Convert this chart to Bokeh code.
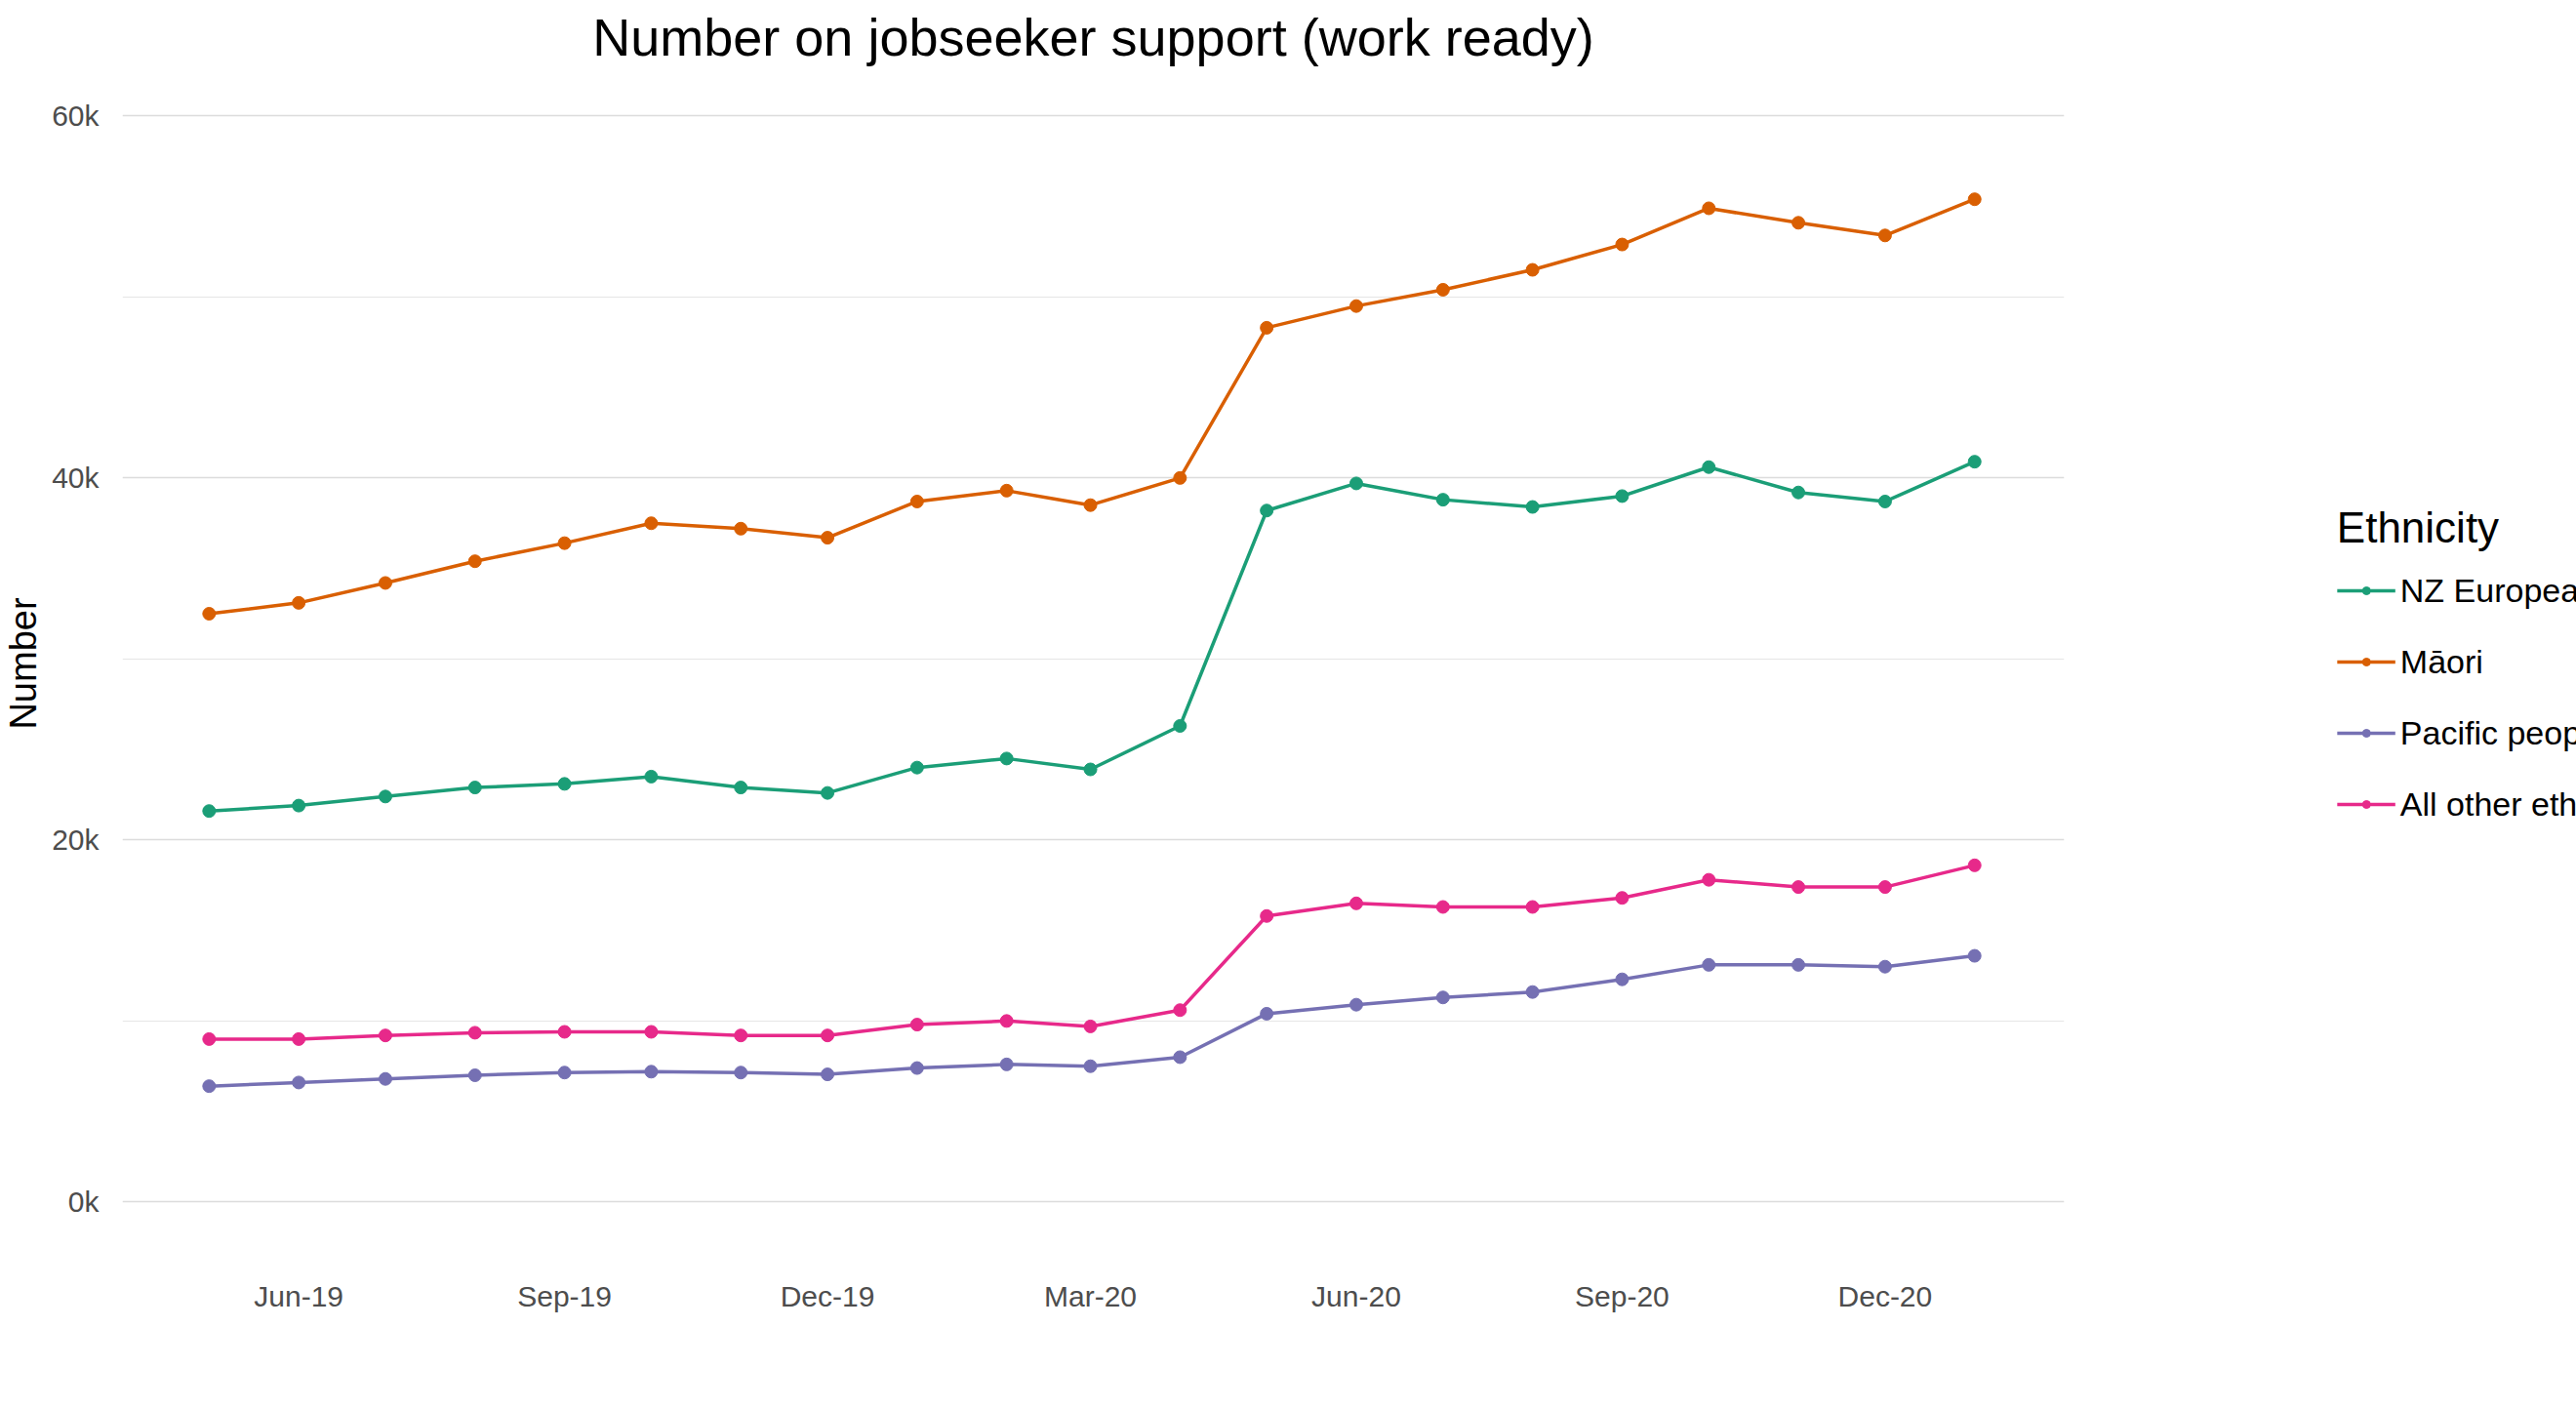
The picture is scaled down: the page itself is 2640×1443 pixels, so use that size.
import pandas as pd
from bokeh.plotting import figure
from bokeh.models import (FixedTicker, CustomJSTickFormatter, DatetimeTickFormatter,
                          Legend, LegendItem, Range1d)
from bokeh.embed import file_html
from bokeh.resources import INLINE

# monthly values, May-19 .. Jan-21 (thousands)
months = pd.date_range("2019-05-01", "2021-01-01", freq="MS")
nz_european = [21.6, 21.9, 22.4, 22.9, 23.1, 23.5, 22.9, 22.6, 24.0, 24.5, 23.9,
               26.3, 38.2, 39.7, 38.8, 38.4, 39.0, 40.6, 39.2, 38.7, 40.9]
maori = [32.5, 33.1, 34.2, 35.4, 36.4, 37.5, 37.2, 36.7, 38.7, 39.3, 38.5,
         40.0, 48.3, 49.5, 50.4, 51.5, 52.9, 54.9, 54.1, 53.4, 55.4]
pacific = [6.4, 6.6, 6.8, 7.0, 7.15, 7.2, 7.15, 7.05, 7.4, 7.6, 7.5,
           8.0, 10.4, 10.9, 11.3, 11.6, 12.3, 13.1, 13.1, 13.0, 13.6]
other = [9.0, 9.0, 9.2, 9.35, 9.4, 9.4, 9.2, 9.2, 9.8, 10.0, 9.7,
         10.6, 15.8, 16.5, 16.3, 16.3, 16.8, 17.8, 17.4, 17.4, 18.6]

series = [("NZ European", nz_european, "#1B9E77"),
          ("Māori", maori, "#D95F02"),
          ("Pacific peoples", pacific, "#7570B3"),
          ("All other ethnicities", other, "#E7298A")]

tick_dates = pd.to_datetime(["2019-06-01", "2019-09-01", "2019-12-01", "2020-03-01",
                             "2020-06-01", "2020-09-01", "2020-12-01"])

FONT = "Liberation Sans"

p = figure(frame_width=1990, frame_height=1215, x_axis_type="datetime",
           output_backend="svg", toolbar_location=None,
           title="Number on jobseeker support (work ready)",
           x_range=Range1d(pd.Timestamp("2019-04-01"), pd.Timestamp("2021-02-01")),
           y_range=Range1d(-3000, 62500),
           min_border_left=60, min_border_top=20, min_border_bottom=20,
           min_border_right=10)

items = []
for name, vals, col in series:
    y = [v * 1000 for v in vals]
    r1 = p.line(months, y, line_color=col, line_width=3.5)
    r2 = p.scatter(months, y, size=13, fill_color=col, line_color=col)
    items.append(LegendItem(label=name, renderers=[r1, r2]))

p.title.text_font = FONT
p.title.text_font_size = "54px"
p.title.text_font_style = "normal"
p.title.text_color = "black"
p.title.align = "center"

p.xaxis.ticker = FixedTicker(ticks=[d.value / 1e6 for d in tick_dates])
p.xaxis.formatter = DatetimeTickFormatter(months="%b-%y", days="%b-%y")
p.yaxis.ticker = FixedTicker(ticks=[0, 20000, 40000, 60000],
                             minor_ticks=[10000, 30000, 50000])
p.yaxis.formatter = CustomJSTickFormatter(code="return (tick/1000) + 'k';")
p.yaxis.axis_label = "Number"
p.yaxis.axis_label_text_font = FONT
p.yaxis.axis_label_text_font_size = "38px"
p.yaxis.axis_label_text_font_style = "normal"
p.yaxis.axis_label_text_color = "black"

for ax in (p.xaxis, p.yaxis):
    ax.axis_line_color = None
    ax.major_tick_line_color = None
    ax.minor_tick_line_color = None
    ax.major_label_text_font = FONT
    ax.major_label_text_font_size = "30px"
    ax.major_label_text_color = "#4d4d4d"
    ax.major_label_standoff = 18

p.xgrid.grid_line_color = None
p.ygrid.grid_line_color = "#dcdcdc"
p.ygrid.grid_line_width = 1.5
p.ygrid.minor_grid_line_color = "#e6e6e6"
p.ygrid.minor_grid_line_width = 1
p.outline_line_color = None

legend = Legend(items=items, title="Ethnicity", location="center")
legend.title_text_font = FONT
legend.title_text_font_size = "44px"
legend.title_text_font_style = "normal"
legend.title_text_color = "black"
legend.title_standoff = 20
legend.label_text_font = FONT
legend.label_text_font_size = "34px"
legend.label_text_color = "black"
legend.glyph_width = 60
legend.spacing = 34
legend.border_line_color = None
legend.padding = 10
legend.margin = 60
p.add_layout(legend, "right")

open("out.html", "w").write(file_html(p, INLINE))
